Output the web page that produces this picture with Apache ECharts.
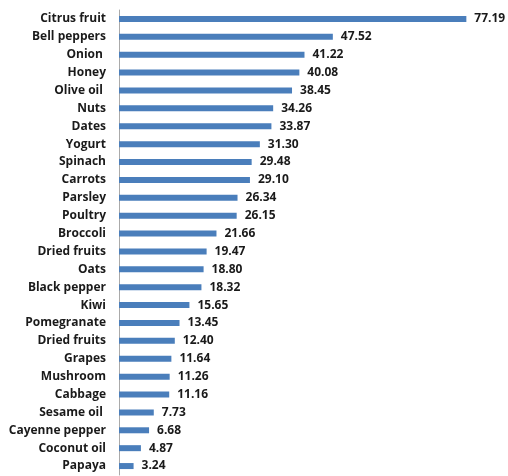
<!DOCTYPE html>
<html><head><meta charset="utf-8">
<script src="https://cdn.jsdelivr.net/npm/echarts@6/dist/echarts.min.js"></script>
<style>html,body{margin:0;padding:0;background:#fff}#c{width:508px;height:476px}</style>
</head><body><div id="c"></div>
<script>
const categories = ["Citrus fruit","Bell peppers","Onion ","Honey","Olive oil ","Nuts","Dates","Yogurt","Spinach","Carrots","Parsley","Poultry","Broccoli","Dried fruits","Oats","Black pepper","Kiwi","Pomegranate","Dried fruits","Grapes","Mushroom","Cabbage","Sesame oil ","Cayenne pepper","Coconut oil","Papaya"];
const values = [77.19,47.52,41.22,40.08,38.45,34.26,33.87,31.30,29.48,29.10,26.34,26.15,21.66,19.47,18.80,18.32,15.65,13.45,12.40,11.64,11.26,11.16,7.73,6.68,4.87,3.24];
const chart = echarts.init(document.getElementById('c'));
chart.setOption({
  animation:false,
  grid:{left:119,right:29,top:10,bottom:1,containLabel:false},
  xAxis:{type:'value',min:0,max:80,show:false},
  yAxis:{type:'category',data:categories.map((c,i)=>i),inverse:true,
    axisLine:{lineStyle:{color:'#aaa',width:1}},axisTick:{show:false},
    axisLabel:{formatter:(v)=>categories[v],margin:13,color:'#1a1a1a',fontFamily:'Open Sans',fontWeight:'bold',fontSize:12}},
  series:[{type:'bar',data:values,barWidth:6,itemStyle:{color:'#4a7ebb'},
    label:{show:true,position:'right',distance:8,color:'#1a1a1a',fontFamily:'Open Sans',fontWeight:'bold',fontSize:12,formatter:(p)=>p.value.toFixed(2)}}]
});
</script></body></html>
